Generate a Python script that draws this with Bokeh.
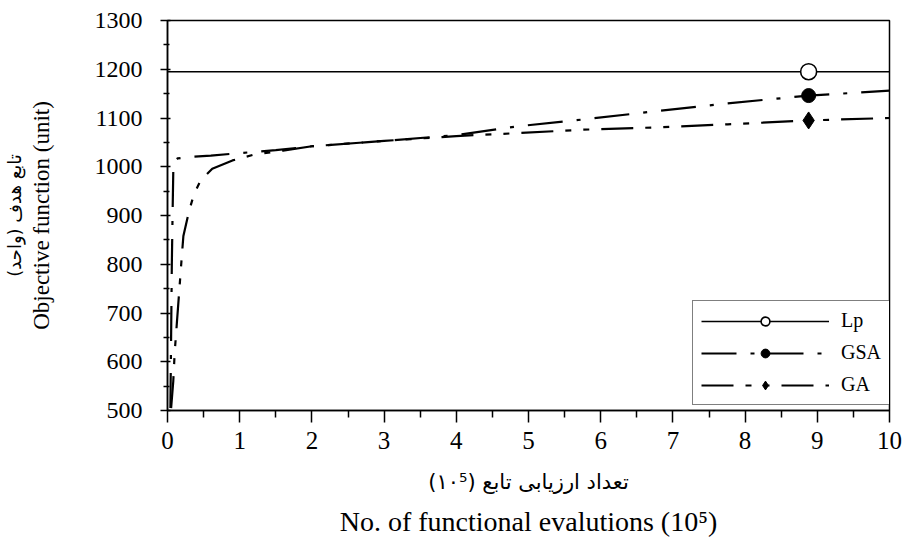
from bokeh.plotting import figure
from bokeh.models import LinearAxis, Legend, LegendItem, Range1d, FixedTicker
from bokeh.embed import file_html
from bokeh.resources import INLINE

# ---- data ----
lp_x = [0.0, 10.0]
lp_y = [1195, 1195]

gsa_x = [0.04, 0.05, 0.06, 0.07, 0.08, 0.1, 0.14, 0.3, 0.6, 1.0, 1.5, 2.0, 3.0, 4.0, 4.85, 5.76, 6.83, 7.76, 8.88, 10.0]
gsa_y = [505, 650, 800, 900, 990, 1012, 1017, 1020, 1023, 1028, 1034, 1042, 1053, 1065, 1083, 1097, 1115, 1130, 1146, 1156]

ga_x = [0.05, 0.08, 0.1, 0.13, 0.16, 0.18, 0.2, 0.22, 0.3, 0.37, 0.46, 0.62, 0.9, 1.2, 1.6, 2.0, 3.0, 4.0, 4.85, 5.76, 6.83, 7.76, 8.88, 10.0]
ga_y = [505, 560, 620, 680, 740, 780, 820, 858, 910, 945, 972, 996, 1013, 1025, 1033, 1042, 1053, 1063, 1069, 1076, 1081, 1087, 1095, 1100]

mark_x = [8.88]
lp_mark_y = [1195]
gsa_mark_y = [1146]
ga_mark_y = [1095]

x_ticks = list(range(0, 11))
y_ticks = list(range(500, 1301, 100))

x_label_fa = "تعداد ارزیابی تابع (۱۰⁵)"
x_label_en = "No. of functional evalutions (10⁵)"
y_label_fa = "تابع هدف (واحد)"
y_label_en = "Objective function (unit)"

SERIF = "Liberation Serif"
FA_FONT = "DejaVu Sans"

p = figure(width=902, height=543, output_backend="svg", toolbar_location=None,
           x_range=Range1d(0, 10), y_range=Range1d(500, 1300),
           min_border_left=167, min_border_right=13, min_border_top=20, min_border_bottom=133)
p.grid.visible = False
p.outline_line_color = "black"
p.outline_line_width = 1.5
p.background_fill_color = "white"
p.border_fill_color = "white"

# lines
r_lp = p.line(lp_x, lp_y, line_color="black", line_width=1.6)
r_gsa = p.line(gsa_x, gsa_y, line_color="black", line_width=2.2, line_dash="35 14 4 14")
r_ga = p.line(ga_x, ga_y, line_color="black", line_width=2.2, line_dash="32 12 6 12 6 12")
# markers
m_lp = p.scatter(mark_x, lp_mark_y, marker="circle", size=16, fill_color="white", line_color="black", line_width=1.6)
m_gsa = p.scatter(mark_x, gsa_mark_y, marker="circle", size=14, fill_color="black", line_color="black")
m_ga = p.scatter(mark_x, ga_mark_y, marker="diamond", size=17, fill_color="black", line_color="black")


def style_axis(ax):
    ax.axis_line_color = "black"
    ax.axis_line_width = 1.5
    ax.major_tick_line_color = "black"
    ax.minor_tick_line_color = "black"
    ax.major_tick_line_width = 1.5
    ax.minor_tick_line_width = 1.5
    ax.major_label_text_font = SERIF
    ax.major_label_text_color = "black"
    ax.axis_label_text_color = "black"
    ax.axis_label_text_font_style = "normal"


def label_only_axis(label, font, size, standoff):
    ax = LinearAxis(axis_label=label, ticker=FixedTicker(ticks=[], minor_ticks=[]),
                    major_tick_line_color=None, minor_tick_line_color=None, axis_line_color=None)
    ax.axis_label_text_font = font
    ax.axis_label_text_font_size = size
    ax.axis_label_text_font_style = "normal"
    ax.axis_label_text_color = "black"
    ax.axis_label_standoff = standoff
    ax.major_label_standoff = 0
    ax.major_tick_out = 0
    ax.major_tick_in = 0
    ax.minor_tick_out = 0
    ax.minor_tick_in = 0
    return ax


xa = p.xaxis[0]
style_axis(xa)
xa.ticker = FixedTicker(ticks=x_ticks, minor_ticks=[i + 0.5 for i in range(0, 10)])
xa.major_tick_out = 12
xa.major_tick_in = 0
xa.minor_tick_out = 7
xa.minor_tick_in = 0
xa.major_label_text_font_size = "25px"
xa.major_label_standoff = 9
xa.axis_label = x_label_fa
xa.axis_label_text_font = FA_FONT
xa.axis_label_text_font_size = "21px"
xa.axis_label_standoff = 18

p.add_layout(label_only_axis(x_label_en, SERIF, "28px", 9), "below")

ya = p.yaxis[0]
style_axis(ya)
ya.ticker = FixedTicker(ticks=y_ticks, minor_ticks=[v + 50 for v in range(500, 1300, 100)])
ya.major_tick_out = 7
ya.major_tick_in = 3
ya.minor_tick_out = 4
ya.minor_tick_in = 2
ya.major_label_text_font_size = "24px"
ya.major_label_standoff = 18
ya.axis_label = y_label_en
ya.axis_label_text_font = SERIF
ya.axis_label_text_font_size = "23px"
ya.axis_label_standoff = 38

p.add_layout(label_only_axis(y_label_fa, FA_FONT, "18px", 1), "left")

legend = Legend(items=[
    LegendItem(label="Lp", renderers=[r_lp, m_lp]),
    LegendItem(label="GSA", renderers=[r_gsa, m_gsa]),
    LegendItem(label="GA", renderers=[r_ga, m_ga]),
], location=(525, 5))
legend.margin = 0
legend.padding = 8
legend.spacing = 9
legend.glyph_width = 128
legend.glyph_height = 22
legend.label_standoff = 12
legend.label_text_font = SERIF
legend.label_text_font_size = "20px"
legend.label_text_color = "black"
legend.border_line_color = "black"
legend.border_line_width = 1.2
legend.background_fill_alpha = 1
p.add_layout(legend, "center")

open("out.html", "w").write(file_html(p, INLINE))
